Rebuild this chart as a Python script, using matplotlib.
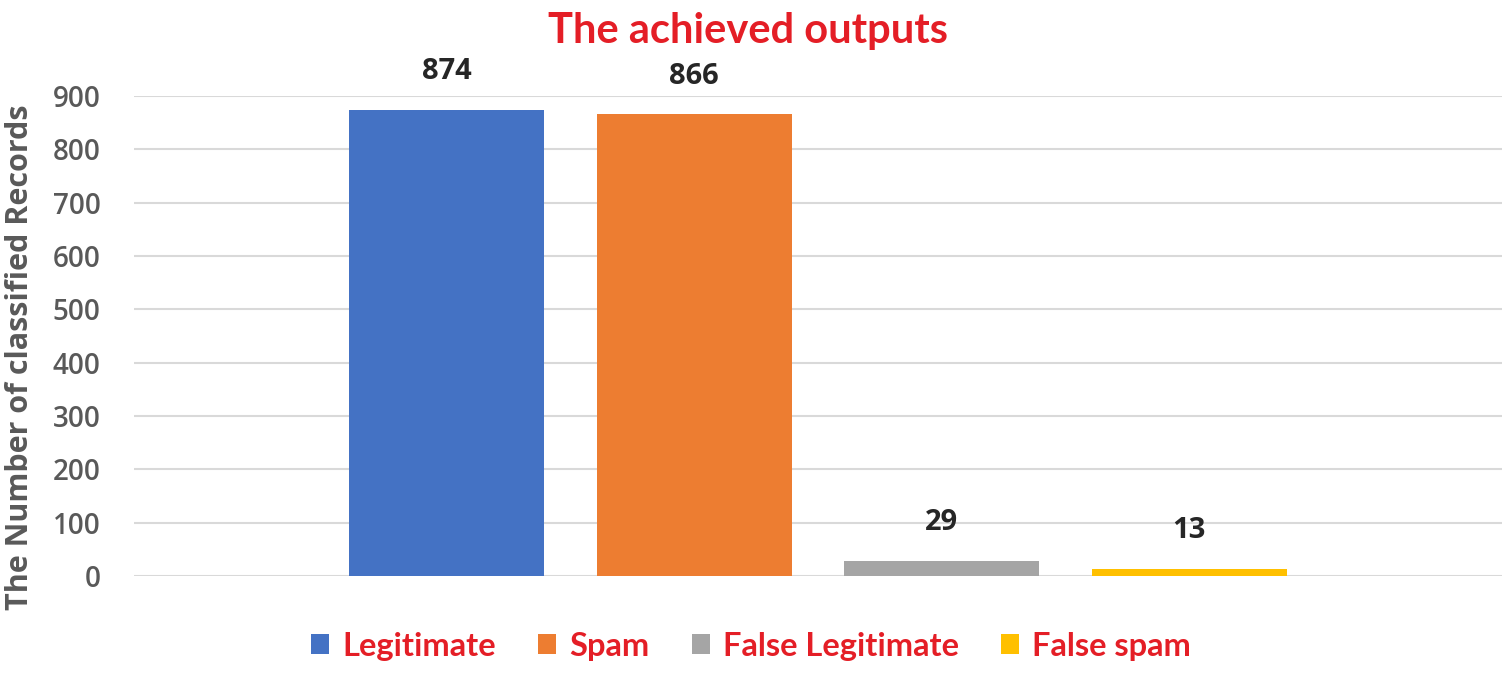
import numpy as np
import matplotlib.pyplot as plt

plt.rcParams['font.family'] = ['Open Sans', 'DejaVu Sans']

# chart data
series = ['Legitimate', 'Spam', 'False Legitimate', 'False spam']
values = [874, 866, 29, 13]
colors = ['#4472C4', '#ED7D31', '#A5A5A5', '#FFC000']
yticks = [0, 100, 200, 300, 400, 500, 600, 700, 800, 900]

fig = plt.figure(figsize=(15.05, 6.83), dpi=100)
ax = fig.add_axes([0.089, 0.1567, 0.909, 0.7027])

step = 0.181
width = 0.1425
offsets = (np.arange(len(series)) - (len(series) - 1) / 2) * step
for off, val, col, name in zip(offsets, values, colors, series):
    ax.bar(off, val, width=width, color=col, label=name, zorder=3)
    ax.annotate(str(val), (off, val), xytext=(0, 17), textcoords='offset points',
                ha='center', va='bottom', fontsize=21, fontweight='bold',
                color='#262626')

ax.set_xlim(-0.5, 0.5)
ax.set_ylim(0, 900)
ax.set_yticks(yticks)
ax.set_xticks([])
ax.grid(axis='y', color='#d9d9d9', linewidth=1.5, zorder=0)
for s in ax.spines.values():
    s.set_visible(False)
ax.tick_params(axis='y', length=0, labelsize=20, labelcolor='#595959', pad=24)
for lab in ax.get_yticklabels():
    lab.set_fontweight('semibold')

ax.set_ylabel('The Number of classified Records', fontsize=22, fontweight='bold',
              color='#595959')
ax.yaxis.set_label_coords(-0.072, 0.456)

fig.suptitle('The achieved outputs', x=0.497, y=0.982, fontsize=30, fontweight='bold',
             color='#E41E26', family=['Lato', 'DejaVu Sans'])

leg = fig.legend(loc='center', bbox_to_anchor=(0.499, 0.054), ncol=4, frameon=False,
                 prop={'family': ['Lato', 'DejaVu Sans'], 'size': 23.5, 'weight': 'bold'},
                 handlelength=0.55, handleheight=0.55, handletextpad=0.4,
                 columnspacing=1.3)
for t in leg.get_texts():
    t.set_color('#E41E26')

fig.savefig('out.png', dpi=100)
